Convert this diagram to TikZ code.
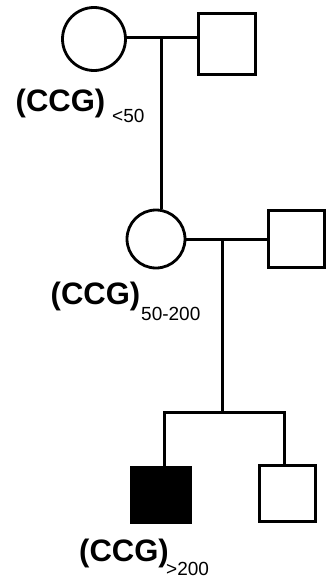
\documentclass[tikz,border=0pt]{standalone}
\usepackage{fontspec}
\setmainfont{Liberation Sans}
\begin{document}
\begin{tikzpicture}[x=1pt,y=-1pt,
  female/.style={circle, draw=black, line width=2.8pt, inner sep=0pt, minimum size=#1},
  male/.style={rectangle, draw=black, line width=3pt, inner sep=0pt, minimum width=57pt, minimum height=57pt},
  link/.style={draw=black, line width=3pt},
  lbl/.style={anchor=base west, inner sep=0pt, font=\fontsize{31}{31}\selectfont\bfseries},
  sublbl/.style={anchor=base west, inner sep=0pt, font=\fontsize{19}{19}\selectfont}]
\useasboundingbox (0,0) rectangle (331,578);
\fill[white] (0,0) rectangle (331,578);
% generation I
\node[female=63pt] (gm) at (94,39) {};
\node[male, minimum height=61pt] (gf) at (227,44) {};
% generation II
\node[female=58pt] (mo) at (156,239) {};
\node[male, minimum height=57pt, minimum width=56pt] (fa) at (296.5,239) {};
% generation III
\node[male, fill=black, minimum width=59pt, minimum height=55pt] (c1) at (161,495) {};
\node[male, minimum width=56pt, minimum height=56pt] (c2) at (287.5,493.5) {};
% connectors
\coordinate (m1) at (161,38);
\draw[link] (gm.east |- m1) -- (gf.west |- m1);
\draw[link] (m1) -- (mo.north -| m1);
\coordinate (m2) at (222,239);
\draw[link] (mo.east) -- (fa.west);
\coordinate (sib) at (222,412);
\coordinate (sL) at (164,412);
\coordinate (sR) at (284,412);
\draw[link] (m2) -- (sib);
\draw[link, line join=miter] (c1.north -| sL) -- (sL) -- (sR) -- (c2.north -| sR);
% labels
\node[lbl] (l1) at (15.5,111) {(CCG)};
\node[sublbl] (s1) at (112,122) {<50};
\node[lbl] (l2) at (50.5,304) {(CCG)};
\node[sublbl] (s2) at (141,320) {50-200};
\node[lbl] (l3) at (79,561) {(CCG)};
\node[sublbl] (s3) at (166,575) {>200};
\end{tikzpicture}
\end{document}
